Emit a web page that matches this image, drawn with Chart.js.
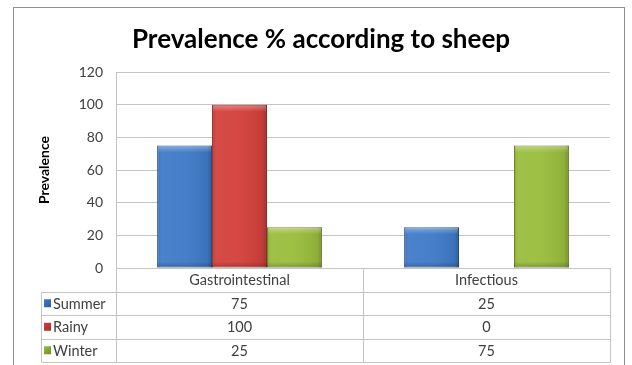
<!DOCTYPE html>
<html>
<head>
<meta charset="utf-8">
<script src="https://cdn.jsdelivr.net/npm/chart.js@4.4.1/dist/chart.umd.min.js"></script>
<style>
  html, body { margin: 0; padding: 0; background: #ffffff; }
  #wrap { width: 632px; height: 365px; position: relative; }
</style>
</head>
<body>
<div id="wrap"><canvas id="chart" width="632" height="365"></canvas></div>
<script>
// Categories and series values
const categories = ['Gastrointestinal', 'Infectious'];
const seriesNames = ['Summer', 'Rainy', 'Winter'];
const summer = [75, 25];
const rainy = [100, 0];
const winter = [25, 75];
const yTicks = [0, 20, 40, 60, 80, 100, 120];
const chartTitle = 'Prevalence % according to sheep';

const FONT = 'Lato, "Open Sans", "Liberation Sans", sans-serif';
const TEXT = '#404040';
const LINE = '#c4c4c4';

const palette = [
  { fill: '#3f7bc8', edge: '#2b5d9c' },
  { fill: '#d3403b', edge: '#a52c29' },
  { fill: '#9abd3c', edge: '#6f8d25' }
];

// Excel-style shading over each bar: darker sides, light bevel on top
const barShading = {
  id: 'barShading',
  afterDatasetsDraw(chart) {
    const ctx = chart.ctx;
    chart.data.datasets.forEach((ds, di) => {
      const meta = chart.getDatasetMeta(di);
      meta.data.forEach(bar => {
        const { x, y, base, width } = bar.getProps(['x', 'y', 'base', 'width'], true);
        const h = base - y;
        if (h <= 0) return;
        const l = x - width / 2;
        ctx.save();
        const g = ctx.createLinearGradient(l, 0, l + width, 0);
        g.addColorStop(0, 'rgba(0,0,0,0.12)');
        g.addColorStop(0.08, 'rgba(255,255,255,0.06)');
        g.addColorStop(0.45, 'rgba(255,255,255,0.04)');
        g.addColorStop(0.92, 'rgba(0,0,0,0.08)');
        g.addColorStop(1, 'rgba(0,0,0,0.25)');
        ctx.fillStyle = g;
        ctx.fillRect(l, y, width, h);
        const v = ctx.createLinearGradient(0, y, 0, y + Math.min(7, h));
        v.addColorStop(0, 'rgba(255,255,255,0.35)');
        v.addColorStop(1, 'rgba(255,255,255,0)');
        ctx.fillStyle = v;
        ctx.fillRect(l + 1, y + 1, width - 2, Math.min(7, h));
        const b = ctx.createLinearGradient(0, base - Math.min(6, h), 0, base);
        b.addColorStop(0, 'rgba(0,0,0,0)');
        b.addColorStop(1, 'rgba(0,0,0,0.2)');
        ctx.fillStyle = b;
        ctx.fillRect(l, base - Math.min(6, h), width, Math.min(6, h));
        ctx.restore();
      });
    });
  }
};

// Title, data table under the plot and the outer chart frame
const dataTable = {
  id: 'dataTable',
  afterDraw(chart) {
    const ctx = chart.ctx;
    const area = chart.chartArea;
    const x = chart.scales.x;
    const left = area.left, right = area.right;
    const top = area.bottom;
    const rowH = 23.5;
    const legendLeft = 41;
    const colW = (right - left) / categories.length;
    const rows = [summer, rainy, winter];
    const bottom = top + rowH * (rows.length + 1);
    const px = v => Math.round(v) + 0.5;

    ctx.save();
    // chart title
    ctx.fillStyle = '#000000';
    ctx.font = 'bold 26px ' + FONT;
    ctx.textAlign = 'center';
    ctx.textBaseline = 'middle';
    ctx.fillText(chartTitle, 321, 40);

    ctx.strokeStyle = LINE;
    ctx.lineWidth = 1;
    ctx.beginPath();
    ctx.moveTo(px(left), px(top)); ctx.lineTo(px(right), px(top));
    for (let r = 1; r <= rows.length + 1; r++) {
      const yy = px(top + rowH * r);
      ctx.moveTo(px(legendLeft), yy); ctx.lineTo(px(right), yy);
    }
    ctx.moveTo(px(legendLeft), px(top + rowH)); ctx.lineTo(px(legendLeft), px(bottom));
    for (let c = 0; c <= categories.length; c++) {
      const xx = px(left + colW * c);
      ctx.moveTo(xx, px(top)); ctx.lineTo(xx, px(bottom));
    }
    ctx.stroke();

    ctx.fillStyle = TEXT;
    ctx.font = '14.5px ' + FONT;
    ctx.textBaseline = 'middle';
    ctx.textAlign = 'center';
    categories.forEach((cat, i) => {
      ctx.fillText(cat, x.getPixelForValue(i), top + rowH / 2 + 1);
    });
    rows.forEach((vals, r) => {
      const cy = top + rowH * (r + 1) + rowH / 2 + 1;
      vals.forEach((v, i) => {
        ctx.textAlign = 'center';
        ctx.fillText(String(v), x.getPixelForValue(i), cy);
      });
      const kx = legendLeft + 3, ky = cy - 5;
      const kg = ctx.createLinearGradient(kx, ky, kx + 7, ky + 8);
      kg.addColorStop(0, palette[r].fill);
      kg.addColorStop(1, palette[r].edge);
      ctx.fillStyle = kg;
      ctx.fillRect(kx, ky, 7, 8);
      ctx.fillStyle = TEXT;
      ctx.textAlign = 'left';
      ctx.fillText(seriesNames[r], kx + 9, cy);
    });

    ctx.strokeStyle = '#8f8f8f';
    ctx.strokeRect(13.5, 7.5, 611, 370);
    ctx.restore();
  }
};

const datasets = [summer, rainy, winter].map((vals, i) => ({
  label: seriesNames[i],
  data: vals,
  backgroundColor: palette[i].fill,
  borderColor: palette[i].edge,
  borderWidth: ctx => (ctx.raw === 0 ? 0 : 1),
  borderSkipped: false,
  categoryPercentage: 0.667,
  barPercentage: 1.0
}));

new Chart(document.getElementById('chart'), {
  type: 'bar',
  data: { labels: categories, datasets },
  options: {
    responsive: false,
    animation: false,
    devicePixelRatio: 1,
    layout: { padding: { left: 0, right: 22, top: 72, bottom: 0 } },
    plugins: {
      legend: { display: false },
      tooltip: { enabled: false },
      title: { display: false }
    },
    scales: {
      x: {
        ticks: { display: false },
        grid: { display: false, drawTicks: false },
        border: { display: true, color: LINE },
        afterFit: s => { s.height = 97; }
      },
      y: {
        min: 0,
        max: 120,
        afterBuildTicks: s => { s.ticks = yTicks.map(v => ({ value: v })); },
        ticks: {
          color: TEXT,
          padding: 13,
          font: { family: FONT, size: 14 }
        },
        grid: { color: LINE, drawTicks: false },
        border: { display: true, color: LINE },
        title: {
          display: true,
          text: 'Prevalence',
          color: '#000000',
          font: { family: FONT, size: 14, weight: 'bold' },
          padding: { top: 36, bottom: 0 }
        },
        afterFit: s => { s.width = 116; }
      }
    }
  },
  plugins: [barShading, dataTable]
});
</script>
</body>
</html>
